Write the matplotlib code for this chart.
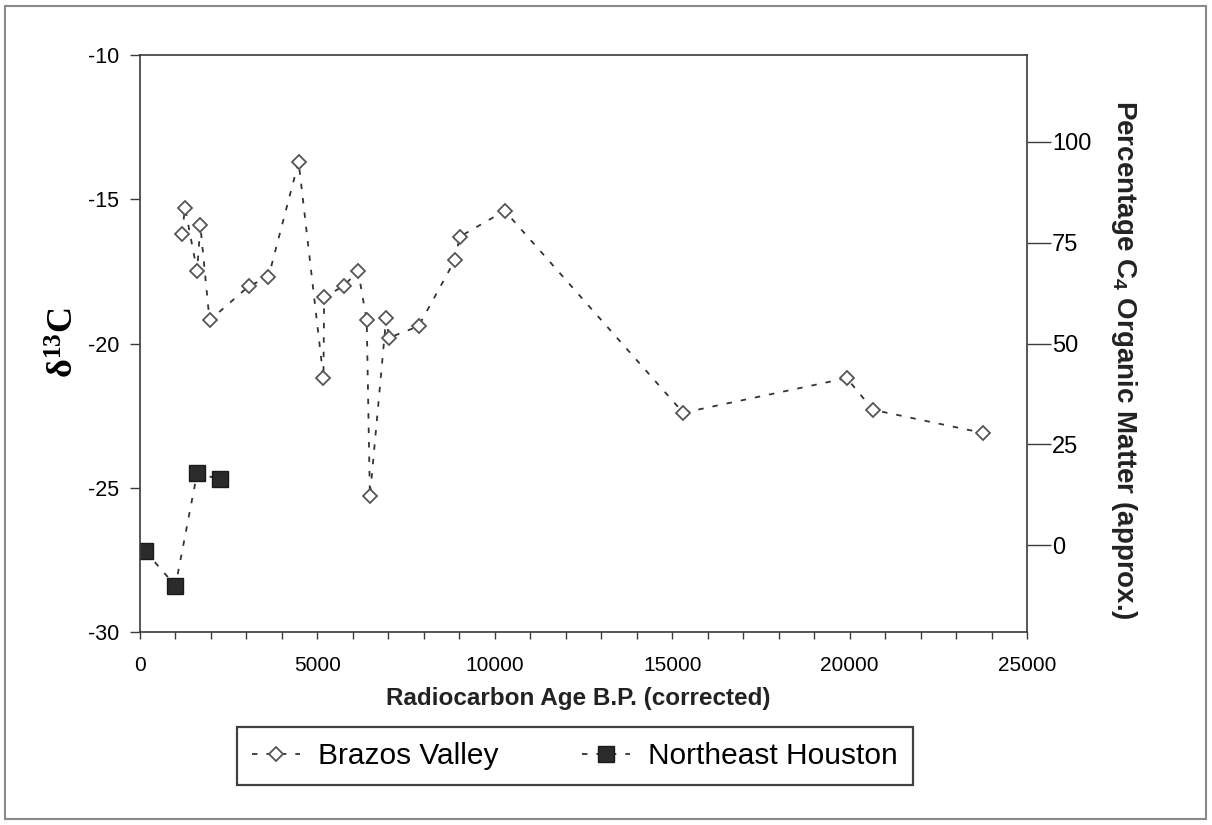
import numpy as np
import matplotlib
matplotlib.use('Agg')
import matplotlib.pyplot as plt
from matplotlib.patches import Rectangle

plt.rcParams['font.family'] = ['Liberation Sans', 'DejaVu Sans']
plt.rcParams['mathtext.fontset'] = 'custom'
plt.rcParams['mathtext.rm'] = 'Liberation Serif'
plt.rcParams['mathtext.bf'] = 'Liberation Serif:bold'
plt.rcParams['mathtext.sf'] = 'Liberation Sans:bold'

# Brazos Valley samples (age in years B.P., delta 13C)
age_bv = [1180, 1270, 1610, 1700, 1960, 3080, 3620, 4470, 5170, 5190, 5740,
          6150, 6390, 6480, 6940, 7020, 7850, 8880, 9010, 10280, 15310,
          19920, 20660, 23760]
d13c_bv = [-16.2, -15.3, -17.5, -15.9, -19.2, -18.0, -17.7, -13.7, -21.2,
           -18.4, -18.0, -17.5, -19.2, -25.3, -19.1, -19.8, -19.4, -17.1,
           -16.3, -15.4, -22.4, -21.2, -22.3, -23.1]

# Northeast Houston samples
age_ne = [150, 1000, 1610, 2250]
d13c_ne = [-27.2, -28.4, -24.5, -24.7]

# end members for the C4 percentage scale
c3_end = -27.0
c4_end = -13.0

x_ticks = [0, 5000, 10000, 15000, 20000, 25000]
y_ticks = [-30, -25, -20, -15, -10]
pct_ticks = [0, 25, 50, 75, 100]

line_col = '#333333'
spine_col = '#3a3a3a'

fig = plt.figure(figsize=(12.12, 8.25), dpi=100)
ax = fig.add_axes([140 / 1212, 1 - 632 / 825, 887 / 1212, 577 / 825])

ax.plot(age_bv, d13c_bv, linestyle=(0, (3, 5)), color=line_col, lw=1.3,
        marker='D', ms=7, mfc='white', mec='#555555', mew=1.3,
        label='Brazos Valley')
ax.plot(age_ne, d13c_ne, linestyle=(0, (3, 5)), color=line_col, lw=1.3,
        marker='s', ms=11, mfc='#2b2b2b', mec='#1a1a1a', mew=1,
        label='Northeast Houston')

ax.set_xlim(0, 25000)
ax.set_ylim(-30, -10)
ax.set_xticks(x_ticks)
ax.set_xticks(np.arange(0, 25001, 1000), minor=True)
ax.set_yticks(y_ticks)
ax.set_yticklabels([str(v) for v in y_ticks])
ax.tick_params(axis='x', which='both', direction='out', length=5,
               width=1, color=spine_col, labelsize=15, pad=12)
ax.tick_params(axis='y', direction='out', length=7, width=1,
               color=spine_col, labelsize=15.5, pad=8)
for s in ax.spines.values():
    s.set_color(spine_col)
    s.set_linewidth(1.2)

# right axis: approximate percentage of C4 organic matter
ax2 = ax.twinx()
lo = (-30 - c3_end) / (c4_end - c3_end) * 100
hi = (-10 - c3_end) / (c4_end - c3_end) * 100
ax2.set_ylim(lo, hi)
ax2.set_yticks(pct_ticks)
ax2.tick_params(axis='y', direction='out', length=17, width=1,
                color=spine_col, labelsize=17, pad=1)
for s in ax2.spines.values():
    s.set_visible(False)

fig.text(64 / 1212, 1 - 343 / 825, r'$\mathbf{\delta^{13}C}$', rotation=90,
         ha='center', va='center', fontsize=26)
fig.text(1124 / 1212, 1 - 360 / 825,
         r'Percentage C$_{\mathsf{4}}$ Organic Matter (approx.)',
         rotation=270, ha='center', va='center', fontsize=20,
         fontweight='bold', color='#222222')
fig.text(578 / 1212, 1 - 698 / 825, 'Radiocarbon Age B.P. (corrected)',
         ha='center', va='center', fontsize=17.5, fontweight='bold',
         color='#222222')

leg = ax.legend(loc='center', bbox_to_anchor=(575 / 1212, 1 - 756 / 825),
                bbox_transform=fig.transFigure, ncol=2, fontsize=21.5,
                frameon=True, fancybox=False, handlelength=1.6,
                handletextpad=0.6, columnspacing=2.8, borderpad=0.5,
                borderaxespad=0)
leg.get_frame().set_edgecolor('#111111')
leg.get_frame().set_linewidth(1.6)

# frame around the whole figure
fig.patches.append(Rectangle((5 / 1212, 6 / 825), 1201 / 1212, 813 / 825,
                             transform=fig.transFigure, fill=False,
                             edgecolor='#8a8a8a', lw=1.5))

fig.savefig('out.png', dpi=100)
